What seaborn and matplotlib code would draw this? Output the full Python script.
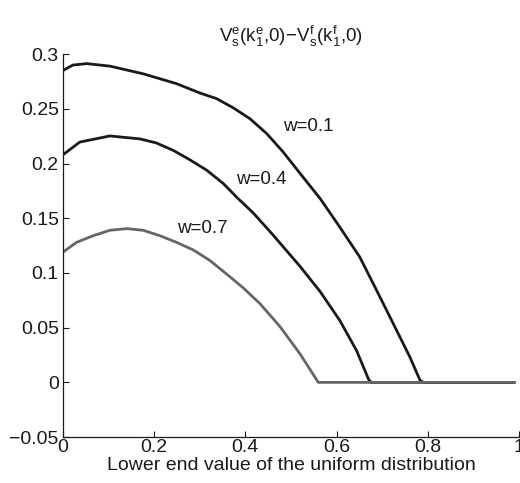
import numpy as np
import pandas as pd
import matplotlib
matplotlib.use("Agg")
import matplotlib.pyplot as plt
import seaborn as sns

# valores
x_w01 = [0.0, 0.022, 0.052, 0.103, 0.176, 0.249, 0.300, 0.337, 0.373, 0.410,
         0.447, 0.483, 0.520, 0.564, 0.607, 0.651, 0.688, 0.724, 0.761, 0.783,
         0.790, 0.99]
y_w01 = [0.285, 0.290, 0.2913, 0.289, 0.282, 0.273, 0.2645, 0.2593, 0.251, 0.241,
         0.2273, 0.2105, 0.191, 0.168, 0.142, 0.1145, 0.084, 0.054, 0.023, 0.002,
         0.0, 0.0]

x_w04 = [0.0, 0.037, 0.103, 0.169, 0.205, 0.242, 0.278, 0.315, 0.352, 0.384,
         0.417, 0.458, 0.520, 0.564, 0.607, 0.644, 0.670, 0.676, 0.99]
y_w04 = [0.208, 0.2196, 0.2252, 0.2225, 0.2188, 0.212, 0.2035, 0.194, 0.1816, 0.168,
         0.155, 0.136, 0.106, 0.083, 0.0567, 0.029, 0.003, 0.0, 0.0]

x_w07 = [0.0, 0.030, 0.066, 0.103, 0.14, 0.176, 0.213, 0.249, 0.286, 0.322,
         0.359, 0.395, 0.432, 0.476, 0.520, 0.560, 0.99]
y_w07 = [0.119, 0.128, 0.134, 0.139, 0.1405, 0.139, 0.134, 0.128, 0.121, 0.1115,
         0.099, 0.0865, 0.072, 0.051, 0.026, 0.0, 0.0]

etiquetas = ["w=0.1", "w=0.4", "w=0.7"]
pos_etiquetas = [(0.537, 0.234), (0.434, 0.185), (0.305, 0.141)]
colores = ["#1a1a1a", "#1a1a1a", "#666666"]

df = pd.concat([
    pd.DataFrame({"x": x_w01, "y": y_w01, "w": etiquetas[0]}),
    pd.DataFrame({"x": x_w04, "y": y_w04, "w": etiquetas[1]}),
    pd.DataFrame({"x": x_w07, "y": y_w07, "w": etiquetas[2]}),
], ignore_index=True)

sns.set_style("ticks")
plt.rcParams['font.family'] = ['Liberation Sans', 'DejaVu Sans']
plt.rcParams['mathtext.fontset'] = 'custom'
plt.rcParams['mathtext.rm'] = 'Liberation Sans'
plt.rcParams['mathtext.it'] = 'Liberation Sans'
plt.rcParams['mathtext.sf'] = 'Liberation Sans'

fig = plt.figure(figsize=(5.2, 4.83), dpi=100)
ax = fig.add_axes([0.121, 0.095, 0.877, 0.793])

sns.lineplot(data=df, x="x", y="y", hue="w", palette=dict(zip(etiquetas, colores)),
             linewidth=2.0, legend=False, ax=ax, sort=False, estimator=None)
for ln in ax.lines:
    ln.set_solid_joinstyle("round")

for txt, (px, py) in zip(etiquetas, pos_etiquetas):
    ax.text(px, py, txt, fontsize=13.5, ha="center", va="center", color="#1a1a1a")

ax.set_xlim(0, 1)
ax.set_ylim(-0.05, 0.3)
ax.set_xticks([0, 0.2, 0.4, 0.6, 0.8, 1])
ax.set_xticklabels(["0", "0.2", "0.4", "0.6", "0.8", "1"])
ax.set_yticks([-0.05, 0, 0.05, 0.1, 0.15, 0.2, 0.25, 0.3])
ax.set_yticklabels(["\u22120.05", "0", "0.05", "0.1", "0.15", "0.2", "0.25", "0.3"])
ax.tick_params(direction="in", length=4.5, labelsize=14, width=0.8,
               colors="#1a1a1a")
ax.tick_params(axis="x", pad=1)
ax.tick_params(axis="y", pad=3)
sns.despine(ax=ax)
for s in ["left", "bottom"]:
    ax.spines[s].set_linewidth(0.9)
    ax.spines[s].set_color("#1a1a1a")

ax.set_xlabel("Lower end value of the uniform distribution", fontsize=14,
              labelpad=1, color="#1a1a1a")
ax.set_ylabel("")
ax.set_title(r"$\mathrm{V_s^e(k_1^e{,}0)\!-\!V_s^f(k_1^f{,}0)}$", fontsize=13.5, pad=9,
             color="#1a1a1a")

plt.savefig("out.png", dpi=100)
plt.close()
